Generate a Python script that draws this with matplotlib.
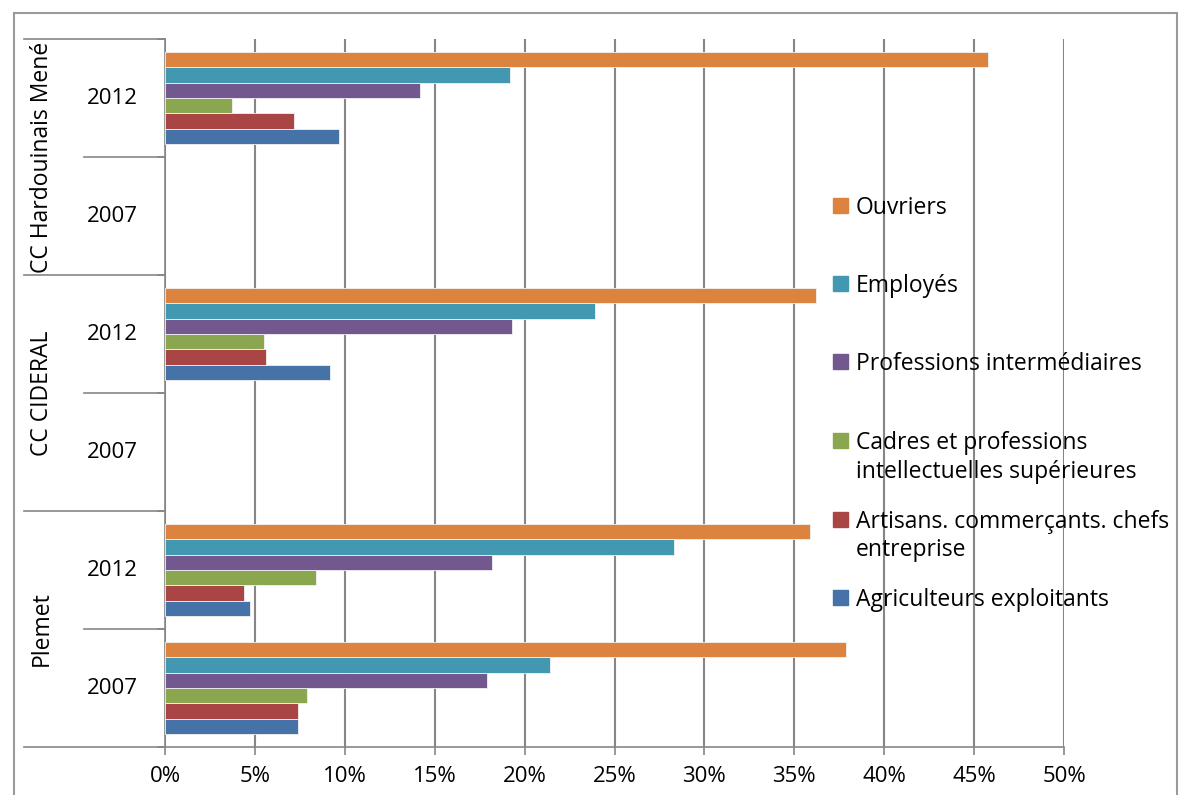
#!/usr/bin/env python3
import numpy as np
import matplotlib
matplotlib.use('Agg')
import matplotlib.pyplot as plt
import matplotlib.transforms as mtransforms
from matplotlib.patches import Rectangle

# categories, bottom to top
regions = ['Plemet', 'CC CIDERAL', 'CC Hardouinais Mené']
years = ['2007', '2012']

# series (bottom bar of each group first), values in %
series = ['Agriculteurs exploitants',
          'Artisans. commerçants. chefs\nentreprise',
          'Cadres et professions\nintellectuelles supérieures',
          'Professions intermédiaires',
          'Employés',
          'Ouvriers']
# order: Plemet 2007, Plemet 2012, CIDERAL 2007, CIDERAL 2012, Hardouinais 2007, Hardouinais 2012
agriculteurs = [7.4, 4.7, np.nan, 9.2, np.nan, 9.7]
artisans = [7.4, 4.4, np.nan, 5.6, np.nan, 7.2]
cadres = [7.9, 8.4, np.nan, 5.5, np.nan, 3.7]
prof_inter = [17.9, 18.2, np.nan, 19.3, np.nan, 14.2]
employes = [21.4, 28.3, np.nan, 23.9, np.nan, 19.2]
ouvriers = [37.9, 35.9, np.nan, 36.2, np.nan, 45.8]
values = [agriculteurs, artisans, cadres, prof_inter, employes, ouvriers]

colors = ['#4572A7', '#A94645', '#8AA64F', '#72588E', '#4298B0', '#DC8340']
x_ticks = [0, 5, 10, 15, 20, 25, 30, 35, 40, 45, 50]

W, H = 1180, 795
FONT = 'Open Sans'
FS = 16
FS_LEG = 16.5
GRAY = '#868686'


def fx(px):
    return px / W


def fy(py):
    return 1 - py / H


plt.rcParams['font.family'] = [FONT, 'DejaVu Sans']

fig = plt.figure(figsize=(W / 100, H / 100), dpi=100)
ax = fig.add_axes([fx(165), fy(747), (1064 - 165) / W, (747 - 39) / H])

n_cat = len(regions) * len(years)
pos = np.arange(n_cat)
bar_h = 0.13
for i, (name, vals, col) in enumerate(zip(series, values, colors)):
    ax.barh(pos + (i - 2.5) * bar_h, vals, height=bar_h, color=col,
            edgecolor='#f2f2f2', linewidth=0.6, zorder=3)

ax.set_xlim(0, 50)
ax.set_ylim(-0.5, n_cat - 0.5)
ax.set_xticks(x_ticks)
ax.set_xticklabels(['{}%'.format(t) for t in x_ticks], fontsize=FS)
ax.xaxis.grid(True, color=GRAY, linewidth=1.5, zorder=0)
ax.tick_params(axis='x', length=6, width=1.2, color=GRAY, pad=8)
ax.set_yticks(np.arange(-0.5, n_cat, 1.0))
ax.set_yticklabels([])
ax.tick_params(axis='y', length=6, width=1.2, color=GRAY)
for s in ['top', 'right']:
    ax.spines[s].set_visible(False)
for s in ['left', 'bottom']:
    ax.spines[s].set_color(GRAY)
    ax.spines[s].set_linewidth(1.2)

# category labels on the y axis
trans = mtransforms.blended_transform_factory(ax.transAxes, ax.transData)
x_year = (112 - 165) / (1064 - 165)
x_region = (42 - 165) / (1064 - 165)
x_year_line = (84 - 165) / (1064 - 165)
x_region_line = (24 - 165) / (1064 - 165)
for r, region in enumerate(regions):
    for k, yr in enumerate(years):
        p = r * len(years) + k
        ax.text(x_year, p, yr, transform=trans, ha='center', va='center',
                fontsize=FS)
    ax.text(x_region, r * len(years) + 0.5, region, transform=trans,
            ha='center', va='center', rotation=90, fontsize=FS_LEG)
    ax.plot([x_year_line, 0], [r * 2 + 0.5] * 2, transform=trans,
            color=GRAY, linewidth=1.2, clip_on=False)
for b in np.arange(-0.5, n_cat, 2.0):
    ax.plot([x_region_line, 0], [b, b], transform=trans,
            color=GRAY, linewidth=1.2, clip_on=False)

# legend, top entry first
leg_y = [205, 283, 361, 440, 519, 597]
for name, col, ly in zip(series[::-1], colors[::-1], leg_y):
    fig.patches.append(Rectangle((fx(833), fy(ly + 8)), 15 / W, 15 / H,
                                 transform=fig.transFigure, color=col))
    fig.text(fx(856), fy(ly - 9), name, ha='left', va='top',
             fontsize=FS_LEG, linespacing=1.25)

# chart border
fig.patches.append(Rectangle((fx(14), fy(800)), (1177 - 14) / W, (800 - 13) / H,
                             transform=fig.transFigure, fill=False,
                             edgecolor='#9a9a9a', linewidth=1.5))

fig.savefig('out.png', dpi=100)
